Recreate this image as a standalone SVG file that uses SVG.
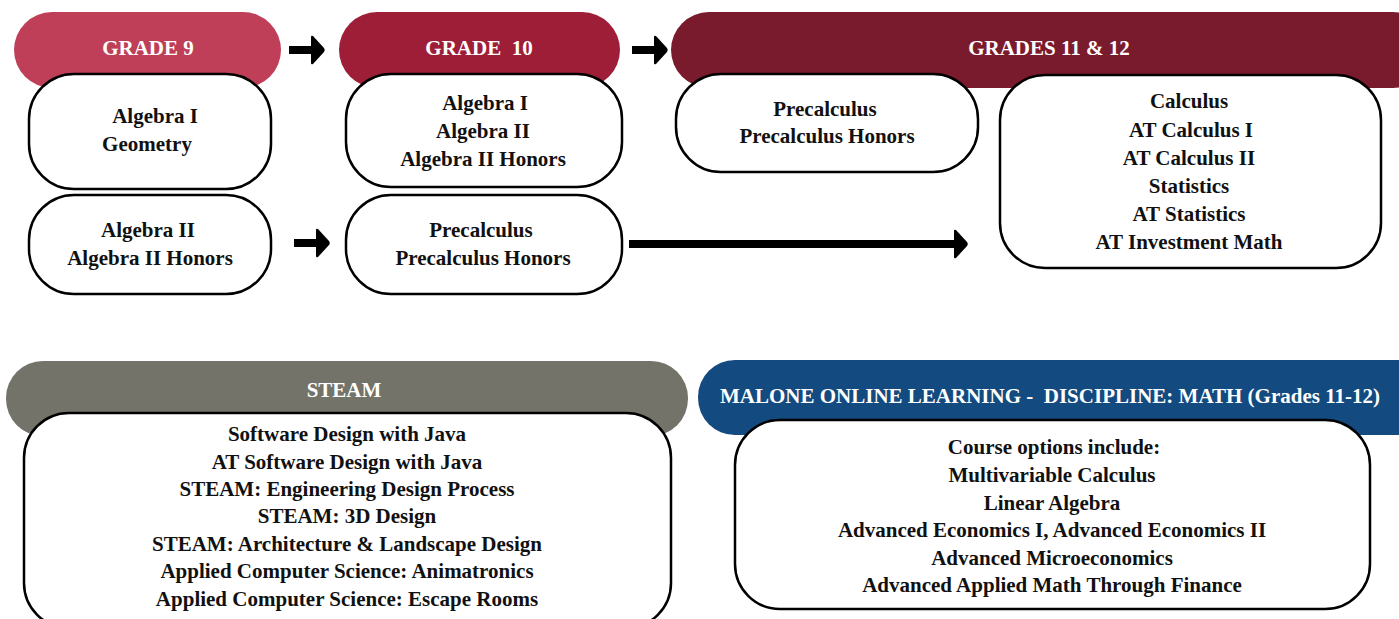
<svg xmlns="http://www.w3.org/2000/svg" width="1399" height="619" viewBox="0 0 1399 619">
<style>
.box{fill:#fff;stroke:#000;stroke-width:2.5}
.t{font-family:"Liberation Serif","Times New Roman",serif;font-weight:bold;font-size:21px;fill:#111;text-anchor:middle}
.h{font-family:"Liberation Serif","Times New Roman",serif;font-weight:bold;font-size:21px;fill:#fff;text-anchor:middle;white-space:pre}
.arr{stroke:#000;stroke-width:8;fill:none}
</style>
<defs>
<marker id="ah" markerUnits="userSpaceOnUse" markerWidth="16" markerHeight="30" viewBox="0 0 16 30" refX="3" refY="15" orient="auto">
<path d="M1,2 Q1,0 3,1 L14,13 Q15.5,15 14,17 L3,29 Q1,30 1,28 Z" fill="#000"/>
</marker>
</defs>
<rect width="1399" height="619" fill="#fff"/>

<g id="connectors">
<line class="arr" x1="289" y1="50" x2="313" y2="50" marker-end="url(#ah)"/>
<line class="arr" x1="632" y1="50" x2="656" y2="50" marker-end="url(#ah)"/>
<line class="arr" x1="294" y1="243" x2="318" y2="243" marker-end="url(#ah)"/>
<line class="arr" x1="629" y1="244" x2="956" y2="244" marker-end="url(#ah)"/>
</g>

<g id="grade9">
<rect x="14" y="12" width="267" height="76" rx="38" fill="#BE3F57"/>
<text class="h" x="148" y="55">GRADE 9</text>
</g>
<g id="grade9-box1">
<rect class="box" x="29" y="74" width="242" height="115" rx="45"/>
<text class="t" x="155" y="123">Algebra I</text>
<text class="t" x="147" y="151">Geometry</text>
</g>
<g id="grade9-box2">
<rect class="box" x="29" y="195" width="242" height="99" rx="45"/>
<text class="t" x="148" y="237">Algebra II</text>
<text class="t" x="150" y="265">Algebra II Honors</text>
</g>

<g id="grade10">
<rect x="339" y="12" width="281" height="76" rx="38" fill="#9E1E37"/>
<text class="h" x="479" y="55">GRADE  10</text>
</g>
<g id="grade10-box1">
<rect class="box" x="346" y="74" width="276" height="113" rx="45"/>
<text class="t" x="485" y="110">Algebra I</text>
<text class="t" x="483" y="138">Algebra II</text>
<text class="t" x="483" y="166">Algebra II Honors</text>
</g>
<g id="grade10-box2">
<rect class="box" x="346" y="195" width="276" height="99" rx="45"/>
<text class="t" x="481" y="237">Precalculus</text>
<text class="t" x="483" y="265">Precalculus Honors</text>
</g>

<g id="grades11-12">
<rect x="671" y="12" width="760" height="76" rx="38" fill="#7A1B2D"/>
<text class="h" x="1049" y="55">GRADES 11 &amp; 12</text>
</g>
<g id="g1112-box1">
<rect class="box" x="676" y="74" width="302" height="98" rx="45"/>
<text class="t" x="825" y="116">Precalculus</text>
<text class="t" x="827" y="143">Precalculus Honors</text>
</g>
<g id="g1112-box2">
<rect class="box" x="1000" y="75" width="381" height="193" rx="45"/>
<text class="t" x="1189" y="108">Calculus</text>
<text class="t" x="1191" y="137">AT Calculus I</text>
<text class="t" x="1189" y="165">AT Calculus II</text>
<text class="t" x="1189" y="193">Statistics</text>
<text class="t" x="1189" y="221">AT Statistics</text>
<text class="t" x="1189" y="249">AT Investment Math</text>
</g>

<g id="steam">
<rect x="6" y="361" width="682" height="75" rx="37" fill="#73736A"/>
<text class="h" x="344" y="397">STEAM</text>
</g>
<g id="steam-box">
<rect class="box" x="24" y="413" width="647" height="215" rx="45"/>
<text class="t" x="347" y="441">Software Design with Java</text>
<text class="t" x="347" y="469">AT Software Design with Java</text>
<text class="t" x="347" y="496">STEAM: Engineering Design Process</text>
<text class="t" x="347" y="523">STEAM: 3D Design</text>
<text class="t" x="347" y="551">STEAM: Architecture &amp; Landscape Design</text>
<text class="t" x="347" y="578">Applied Computer Science: Animatronics</text>
<text class="t" x="347" y="606">Applied Computer Science: Escape Rooms</text>
</g>

<g id="malone">
<rect x="698" y="360" width="740" height="75" rx="37" fill="#134A80"/>
<text class="h" x="1050" y="403">MALONE ONLINE LEARNING -  DISCIPLINE: MATH (Grades 11-12)</text>
</g>
<g id="malone-box">
<rect class="box" x="735" y="420" width="635" height="189" rx="45"/>
<text class="t" x="1054" y="454">Course options include:</text>
<text class="t" x="1052" y="482">Multivariable Calculus</text>
<text class="t" x="1052" y="510">Linear Algebra</text>
<text class="t" x="1052" y="537">Advanced Economics I, Advanced Economics II</text>
<text class="t" x="1052" y="565">Advanced Microeconomics</text>
<text class="t" x="1052" y="592">Advanced Applied Math Through Finance</text>
</g>
</svg>
